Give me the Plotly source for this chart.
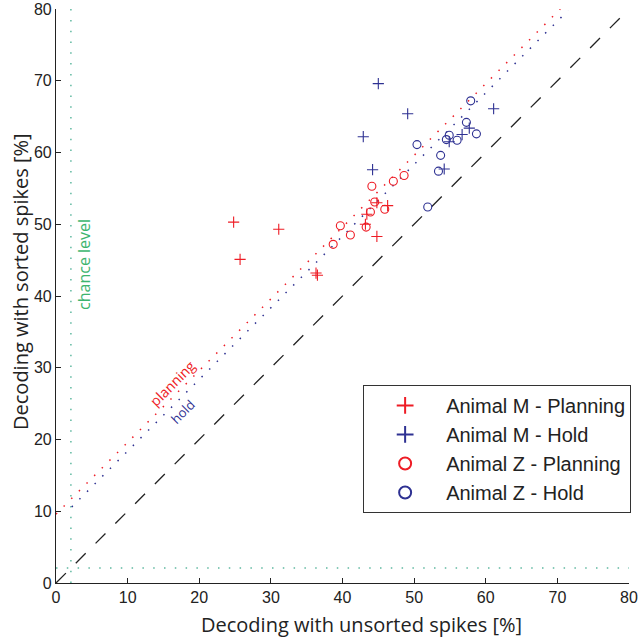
import plotly.graph_objects as go

# ---- data ----
m_plan_x = [24.8, 31.1, 25.7, 36.3, 36.5, 44.8, 43.4, 43.2, 44.8, 46.3]
m_plan_y = [50.3, 49.3, 45.1, 43.2, 42.9, 48.3, 51.4, 50.0, 53.0, 52.6]

m_hold_x = [45.0, 49.1, 42.9, 44.2, 61.1, 57.7, 56.7, 54.9, 54.2]
m_hold_y = [69.6, 65.4, 62.2, 57.6, 66.1, 63.4, 62.5, 61.5, 57.7]

z_plan_x = [48.6, 47.1, 44.1, 44.5, 45.9, 43.9, 39.7, 43.3, 41.1, 38.7]
z_plan_y = [56.8, 56.0, 55.3, 53.1, 52.1, 51.7, 49.8, 49.6, 48.5, 47.2]

z_hold_x = [57.9, 57.3, 58.7, 56.0, 54.9, 54.5, 50.4, 53.7, 53.4, 51.9]
z_hold_y = [67.2, 64.2, 62.6, 61.7, 62.4, 61.8, 61.1, 59.6, 57.4, 52.4]

planning_fit_x = [0.0, 70.4]
planning_fit_y = [9.6, 80.0]
hold_fit_x = [2.2, 71.5]
hold_fit_y = [10.6, 79.8]

identity_x = [0, 80]
identity_y = [0, 80]

chance = 2.08
axis_max = 80
ticks = [0, 10, 20, 30, 40, 50, 60, 70, 80]

RED = "#ee1c25"
BLUE = "#2e3192"
GREEN = "#3cb46e"
CHANCE_DOT = "#5fb8a0"

fig = go.Figure()

# chance level lines
fig.add_trace(go.Scatter(x=[chance, chance], y=[0, axis_max], mode="lines",
                         line=dict(color=CHANCE_DOT, width=1.5, dash="1.5px,9.3px"),
                         showlegend=False, hoverinfo="skip"))
fig.add_trace(go.Scatter(x=[0, axis_max], y=[chance, chance], mode="lines",
                         line=dict(color=CHANCE_DOT, width=1.5, dash="1.5px,9.3px"),
                         showlegend=False, hoverinfo="skip"))
# identity
fig.add_trace(go.Scatter(x=identity_x, y=identity_y, mode="lines",
                         line=dict(color="#222222", width=1.3, dash="14px,14px"),
                         showlegend=False, hoverinfo="skip"))
# fit lines
fig.add_trace(go.Scatter(x=planning_fit_x, y=planning_fit_y, mode="lines",
                         line=dict(color=RED, width=1.5, dash="1.5px,9.3px"),
                         showlegend=False, hoverinfo="skip"))
fig.add_trace(go.Scatter(x=hold_fit_x, y=hold_fit_y, mode="lines",
                         line=dict(color=BLUE, width=1.5, dash="1.5px,9.3px"),
                         showlegend=False, hoverinfo="skip"))

def pts(x, y, name, color, symbol, size, group):
    return go.Scatter(x=x, y=y, mode="markers", name=name, legendgroup=group,
                      marker=dict(symbol=symbol, size=size, color=color,
                                  line=dict(color=color, width=1.1)))

fig.add_trace(pts(m_plan_x, m_plan_y, "Animal M - Planning", RED, "cross-thin-open", 8, "a"))
fig.add_trace(pts(m_hold_x, m_hold_y, "Animal M - Hold", BLUE, "cross-thin-open", 8, "b"))
fig.add_trace(pts(z_plan_x, z_plan_y, "Animal Z - Planning", RED, "circle-open", 8, "c"))
fig.add_trace(pts(z_hold_x, z_hold_y, "Animal Z - Hold", BLUE, "circle-open", 8, "d"))

axis_common = dict(range=[0, axis_max], tickvals=ticks, ticks="inside", ticklen=5,
                   tickcolor="#222", showline=True, linecolor="#222", linewidth=1.2,
                   showgrid=False, zeroline=False, mirror=False, automargin=False,
                   tickfont=dict(family="Liberation Sans, Arial", size=16, color="#222"))

fig.update_layout(
    width=640, height=639,
    margin=dict(l=56, r=11, t=9, b=56),
    paper_bgcolor="white", plot_bgcolor="white",
    xaxis=axis_common,
    yaxis=axis_common,
    legend=dict(x=0.536, y=0.345, xanchor="left", yanchor="top",
                bgcolor="white", bordercolor="#333", borderwidth=1,
                font=dict(family="Liberation Sans, Arial", size=20, color="#222"),
                tracegroupgap=0, itemsizing="constant", itemwidth=72),
    annotations=[
        dict(text="Decoding with unsorted spikes [%]", xref="paper", yref="paper",
             x=0.533, y=-0.073, xanchor="center", yanchor="middle", showarrow=False,
             font=dict(family="Open Sans", size=20, color="#222")),
        dict(text="Decoding with sorted spikes [%]", xref="paper", yref="paper",
             x=-0.063, y=0.526, xanchor="center", yanchor="middle", showarrow=False,
             textangle=-90, font=dict(family="Open Sans", size=20, color="#222")),
        dict(text="chance level", x=3.98, y=44.4, showarrow=False, textangle=-90,
             font=dict(family="Open Sans", size=16, color=GREEN)),
        dict(text="planning", x=16.2, y=27.8, showarrow=False, textangle=-45,
             font=dict(family="Open Sans", size=14, color=RED)),
        dict(text="hold", x=17.6, y=23.9, showarrow=False, textangle=-45,
             font=dict(family="Open Sans", size=13, color=BLUE)),
    ],
)

fig.write_html("out.html", config={"displayModeBar": False},
               post_script="document.body.style.margin='0';")
